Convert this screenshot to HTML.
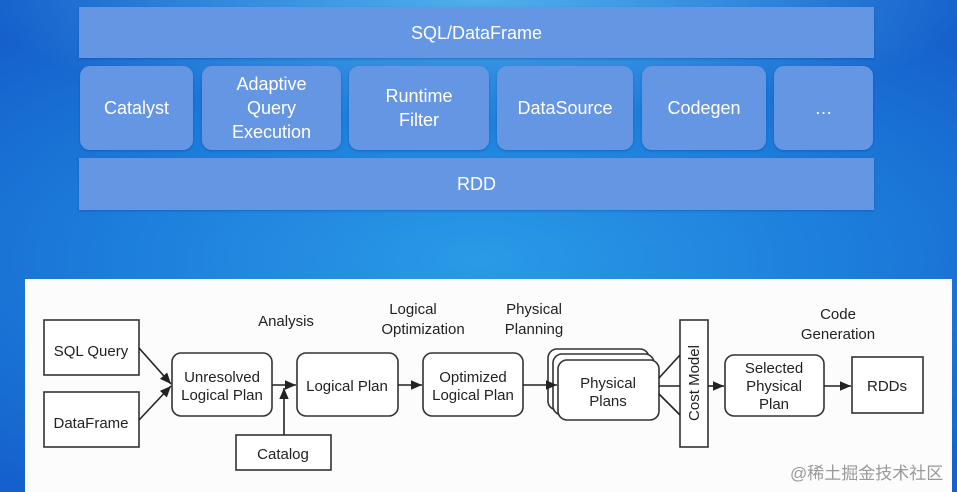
<!DOCTYPE html>
<html><head><meta charset="utf-8"><style>
html,body{margin:0;padding:0}
body{width:957px;height:492px;overflow:hidden;position:relative;font-family:"Liberation Sans",sans-serif;
background:radial-gradient(ellipse 500px 120px at 480px 0px,#4fb0ec 0%,rgba(60,160,232,0) 100%),radial-gradient(ellipse 700px 300px at 480px 260px,#2a9ae6 0%,#1d7fdc 50%,#1560cc 100%);}
.b{position:absolute;background:#6596e4;color:#fff;display:flex;align-items:center;justify-content:center;text-align:center;font-size:18px;line-height:24px;box-shadow:0 1px 2px rgba(0,40,120,.3)}
.r{border-radius:10px}
#panel{position:absolute;left:25px;top:279px;width:927px;height:213px;background:#fcfcfd}
</style></head><body>
<div class="b" style="left:79px;top:7px;width:795px;height:51px">SQL/DataFrame</div>
<div class="b r" style="left:80px;top:66px;width:113px;height:84px">Catalyst</div>
<div class="b r" style="left:202px;top:66px;width:139px;height:84px">Adaptive<br>Query<br>Execution</div>
<div class="b r" style="left:349px;top:66px;width:140px;height:84px">Runtime<br>Filter</div>
<div class="b r" style="left:497px;top:66px;width:136px;height:84px">DataSource</div>
<div class="b r" style="left:642px;top:66px;width:124px;height:84px">Codegen</div>
<div class="b r" style="left:774px;top:66px;width:99px;height:84px">…</div>
<div class="b" style="left:79px;top:158px;width:795px;height:52px">RDD</div>
<div id="panel"></div>
<svg width="957" height="492" style="position:absolute;left:0;top:0" font-family="Liberation Sans, sans-serif" font-size="15" fill="#222">
<defs><marker id="a" markerWidth="8" markerHeight="8" refX="7" refY="4" orient="auto"><path d="M0,1 L7,4 L0,7z" fill="#222"/></marker></defs>
<g stroke="#333" stroke-width="1.6" fill="#fff">
<rect x="44" y="320" width="95" height="55"/>
<rect x="44" y="392" width="95" height="55"/>
<rect x="172" y="353" width="100" height="63" rx="9"/>
<rect x="297" y="353" width="101" height="63" rx="9"/>
<rect x="423" y="353" width="100" height="63" rx="9"/>
<rect x="548" y="349" width="101" height="61" rx="9"/>
<rect x="553" y="354" width="101" height="61" rx="9"/>
<rect x="558" y="360" width="101" height="60" rx="9"/>
<rect x="680" y="320" width="28" height="127"/>
<rect x="725" y="355" width="99" height="61" rx="9"/>
<rect x="852" y="357" width="71" height="56"/>
<rect x="236" y="435" width="95" height="35"/>
</g>
<g stroke="#222" stroke-width="1.6" fill="none">
<line x1="139" y1="348" x2="171" y2="384" marker-end="url(#a)"/>
<line x1="139" y1="420" x2="171" y2="386" marker-end="url(#a)"/>
<line x1="272" y1="385" x2="296" y2="385" marker-end="url(#a)"/>
<line x1="284" y1="435" x2="284" y2="388" marker-end="url(#a)"/>
<line x1="398" y1="385" x2="422" y2="385" marker-end="url(#a)"/>
<line x1="523" y1="385" x2="557" y2="385" marker-end="url(#a)"/>
<line x1="659" y1="378" x2="680" y2="355"/>
<line x1="659" y1="386" x2="680" y2="386"/>
<line x1="659" y1="394" x2="680" y2="415"/>
<line x1="708" y1="386" x2="724" y2="386" marker-end="url(#a)"/>
<line x1="824" y1="386" x2="851" y2="386" marker-end="url(#a)"/>
</g>
<g text-anchor="middle">
<text x="91" y="356">SQL Query</text>
<text x="91" y="428">DataFrame</text>
<text x="222" y="382">Unresolved</text><text x="222" y="400">Logical Plan</text>
<text x="347" y="391">Logical Plan</text>
<text x="473" y="382">Optimized</text><text x="473" y="400">Logical Plan</text>
<text x="608" y="388">Physical</text><text x="608" y="406">Plans</text>
<text x="774" y="373">Selected</text><text x="774" y="391">Physical</text><text x="774" y="409">Plan</text>
<text x="887" y="391">RDDs</text>
<text x="283" y="459">Catalog</text>
<text x="286" y="326">Analysis</text>
<text x="413" y="314">Logical</text><text x="423" y="334">Optimization</text>
<text x="534" y="314">Physical</text><text x="534" y="334">Planning</text>
<text x="838" y="319">Code</text><text x="838" y="339">Generation</text>
<text transform="translate(699,383) rotate(-90)">Cost Model</text>
</g>
<text x="790" y="479" font-family="Liberation Sans, Noto Sans CJK SC, sans-serif" font-size="17" fill="#999">@稀土掘金技术社区</text>
</svg>
</body></html>
